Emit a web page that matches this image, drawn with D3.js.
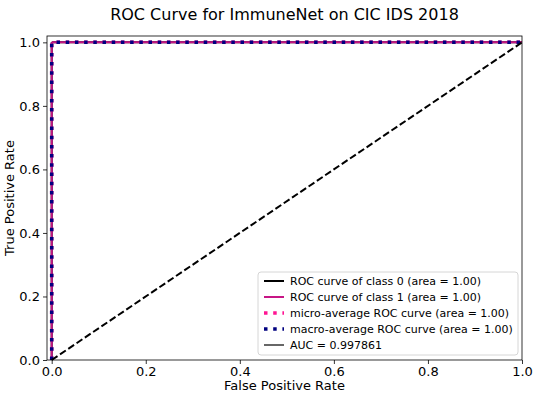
<!DOCTYPE html>
<html>
<head>
<meta charset="utf-8">
<script src="https://cdn.jsdelivr.net/npm/d3@7"></script>
<style>
  body { margin: 0; background: #fff; }
  svg { font-family: "DejaVu Sans", sans-serif; }
</style>
</head>
<body>
<svg id="chart" width="536" height="397"></svg>
<script>
// ROC points
const class0Fpr = [0, 0.0, 0.0021, 1.0];
const class0Tpr = [0, 0.9979, 1.0, 1.0];
const class1Fpr = [0, 0.0, 0.0021, 1.0];
const class1Tpr = [0, 0.9979, 1.0, 1.0];
const microFpr = [0, 0.0, 0.0021, 1.0];
const microTpr = [0, 0.9979, 1.0, 1.0];
const macroFpr = [0, 0.0, 0.0021, 1.0];
const macroTpr = [0, 0.9979, 1.0, 1.0];
const diagFpr = [0, 1];
const diagTpr = [0, 1];
const xTicks = [0.0, 0.2, 0.4, 0.6, 0.8, 1.0];
const yTicks = [0.0, 0.2, 0.4, 0.6, 0.8, 1.0];
const legendLabels = [
    "ROC curve of class 0 (area = 1.00)",
    "ROC curve of class 1 (area = 1.00)",
    "micro-average ROC curve (area = 1.00)",
    "macro-average ROC curve (area = 1.00)",
    "AUC = 0.997861"
];

const svg = d3.select("#chart");
const mLeft = 47, mRight = 522, mTop = 36, mBottom = 360;

const x = d3.scaleLinear().domain([-0.01, 1.0]).range([mLeft, mRight]);
const y = d3.scaleLinear().domain([0, 1.02]).range([mBottom, mTop]);

// axes
const xAxis = svg.append("g").attr("transform", `translate(0,${mBottom})`)
    .call(d3.axisBottom(x).tickValues(xTicks).tickFormat(d3.format(".1f")).tickSizeOuter(0).tickSize(4).tickPadding(3));
const yAxis = svg.append("g").attr("transform", `translate(${mLeft},0)`)
    .call(d3.axisLeft(y).tickValues(yTicks).tickFormat(d3.format(".1f")).tickSizeOuter(0).tickSize(4).tickPadding(3));
[xAxis, yAxis].forEach(a => {
    a.select(".domain").remove();
    a.selectAll("text").attr("font-size", 13).attr("fill", "#000").attr("font-family", "DejaVu Sans");
    a.selectAll("line").attr("stroke", "#000").attr("stroke-width", 0.8);
});

const line = (fx, ty) => d3.line().x((d, i) => x(fx[i])).y((d, i) => y(ty[i]))(fx);

// curves
svg.append("path").attr("d", line(class0Fpr, class0Tpr)).attr("fill", "none")
    .attr("stroke", "#000").attr("stroke-width", 2);
svg.append("path").attr("d", line(class1Fpr, class1Tpr)).attr("fill", "none")
    .attr("stroke", "#c71585").attr("stroke-width", 2);
svg.append("path").attr("d", line(microFpr, microTpr)).attr("fill", "none")
    .attr("stroke", "deeppink").attr("stroke-width", 3.5).attr("stroke-dasharray", "3.5,5.7");
svg.append("path").attr("d", line(macroFpr, macroTpr)).attr("fill", "none")
    .attr("stroke", "navy").attr("stroke-width", 3.5).attr("stroke-dasharray", "3.5,5.7");
svg.append("path").attr("d", line(diagFpr, diagTpr)).attr("fill", "none")
    .attr("stroke", "#000").attr("stroke-width", 2).attr("stroke-dasharray", "7,3");

// frame
svg.append("rect").attr("x", mLeft).attr("y", mTop).attr("width", mRight - mLeft).attr("height", mBottom - mTop)
    .attr("fill", "none").attr("stroke", "#000").attr("stroke-width", 0.8);

// titles
svg.append("text").attr("x", (mLeft + mRight) / 2).attr("y", 20).attr("text-anchor", "middle")
    .attr("font-size", 16).text("ROC Curve for ImmuneNet on CIC IDS 2018");
svg.append("text").attr("x", (mLeft + mRight) / 2).attr("y", 390).attr("text-anchor", "middle")
    .attr("font-size", 13).text("False Positive Rate");
svg.append("text").attr("transform", `translate(14,${(mTop + mBottom) / 2}) rotate(-90)`)
    .attr("text-anchor", "middle").attr("font-size", 13).text("True Positive Rate");

// legend
const legendStyles = [
    { color: "#000", width: 2, dash: null },
    { color: "#c71585", width: 2, dash: null },
    { color: "deeppink", width: 3.5, dash: "3.5,5.7" },
    { color: "navy", width: 3.5, dash: "3.5,5.7" },
    { color: "#000", width: 1.2, dash: null }
];
const lg = svg.append("g").attr("transform", "translate(258,272)");
lg.append("rect").attr("width", 260).attr("height", 83).attr("rx", 3)
    .attr("fill", "#fff").attr("fill-opacity", 0.8).attr("stroke", "#ccc").attr("stroke-width", 0.8);
legendLabels.forEach((lab, i) => {
    const yy = 9 + i * 16;
    const s = legendStyles[i];
    lg.append("line").attr("x1", 6).attr("x2", 26).attr("y1", yy).attr("y2", yy)
        .attr("stroke", s.color).attr("stroke-width", s.width).attr("stroke-dasharray", s.dash);
    lg.append("text").attr("x", 32).attr("y", yy + 4).attr("font-size", 11).text(lab);
});
</script>
</body>
</html>
